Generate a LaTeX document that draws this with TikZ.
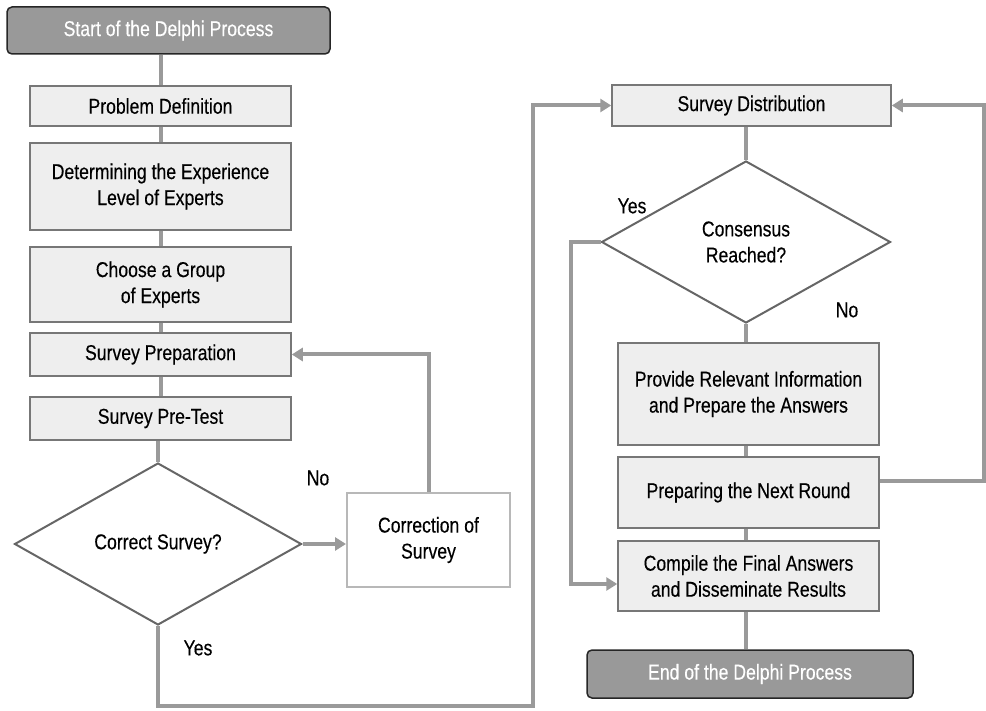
\documentclass[tikz,border=0pt]{standalone}
\usepackage{fontspec}
\setmainfont{Liberation Sans}[FakeStretch=0.82,FakeBold=0.3]
\usetikzlibrary{shapes.geometric,arrows.meta}
\definecolor{conn}{HTML}{9A9A9A}
\definecolor{boxfill}{HTML}{EEEEEE}
\definecolor{boxline}{HTML}{777777}
\definecolor{termfill}{HTML}{999999}
\tikzset{
  every node/.style={font=\fontsize{21.5}{26}\selectfont, align=center, inner sep=0pt},
  procbox/.style={draw=boxline, fill=boxfill, line width=1.5pt, minimum width=261pt},
  termbox/.style={draw=black!85, fill=termfill, line width=1.5pt, rounded corners=5pt, text=white},
  decision/.style={diamond, draw=black!60, fill=white, line width=2pt},
  conline/.style={draw=conn, line width=4pt},
  conarrow/.style={conline, -{Triangle[length=11pt,width=13pt]}},
  lbl/.style={font=\fontsize{21.5}{26}\selectfont}
}
\begin{document}
\begin{tikzpicture}[x=1pt,y=-1pt]
\useasboundingbox (0,0) rectangle (986,711);
\node[termbox, minimum width=323pt, minimum height=47pt] (start) at (168.5,30.5) {Start of the Delphi Process};
\node[procbox, minimum height=40pt] (pd) at (160.5,106) {Problem Definition};
\node[procbox, minimum height=87pt] (det) at (160.5,186.5) {Determining the Experience\\Level of Experts};
\node[procbox, minimum height=75pt] (grp) at (160.5,284.5) {Choose a Group\\of Experts};
\node[procbox, minimum height=43pt] (sp) at (160.5,354.5) {Survey Preparation};
\node[procbox, minimum height=43pt] (spt) at (160.5,418.5) {Survey Pre-Test};
\node[decision, minimum width=287pt, minimum height=162pt] (cs) at (158,544) {Correct Survey?};
\node[draw=black!28, fill=white, line width=2pt, minimum width=163pt, minimum height=94pt] (corr) at (428.5,540) {Correction of\\Survey};

\node[procbox, minimum width=279pt, minimum height=41pt] (sd) at (751.5,105.5) {Survey Distribution};
\node[decision, minimum width=289pt, minimum height=162pt] (cr) at (746,242) {Consensus\\Reached?};
\node[procbox, minimum height=102pt] (pri) at (748.5,394) {Provide Relevant Information\\and Prepare the Answers};
\node[procbox, minimum height=71pt] (pnr) at (748.5,492.5) {Preparing the Next Round};
\node[procbox, minimum height=70pt] (cf) at (748.5,576) {Compile the Final Answers\\and Disseminate Results};
\node[termbox, minimum width=326pt, minimum height=48pt] (end) at (750,674) {End of the Delphi Process};

\coordinate (yb) at (533,706);
\coordinate (ry) at (571,0);
\coordinate (rr) at (984,0);

\node[lbl] (no1) at (318,478) {No};
\node[lbl] (yes1) at (198,648) {Yes};
\node[lbl] (yes2) at (632,206) {Yes};
\node[lbl] (no2) at (847,310) {No};

% connectors
\draw[conline] (start.south -| pd.north) -- (pd.north);
\draw[conline] (pd.south) -- (det.north);
\draw[conline] (det.south) -- (grp.north);
\draw[conline] (grp.south) -- (sp.north);
\draw[conline] (sp.south) -- (spt.north);
\draw[conline] (spt.south -| cs.north) -- (cs.north);
\draw[conarrow] (cs.east) -- (cs.east -| corr.west);
\draw[conarrow] (corr.north) |- (sp.east);
\draw[conarrow] (cs.south) |- (yb) |- (sd.west);
\draw[conline] (sd.south -| cr.north) -- (cr.north);
\draw[conline] (cr.south) -- (cr.south |- pri.north);
\draw[conline] (pri.south -| cr.south) -- (pnr.north -| cr.south);
\draw[conline] (pnr.south -| cr.south) -- (cf.north -| cr.south);
\draw[conline] (cf.south -| cr.south) -- (end.north -| cr.south);
\draw[conarrow] (cr.west) -- (cr.west -| ry) |- ([yshift=-8pt]cf.west);
\draw[conarrow] ([yshift=12pt]pnr.east) -- ([yshift=12pt]pnr.east -| rr) |- (sd.east);
\end{tikzpicture}
\end{document}
